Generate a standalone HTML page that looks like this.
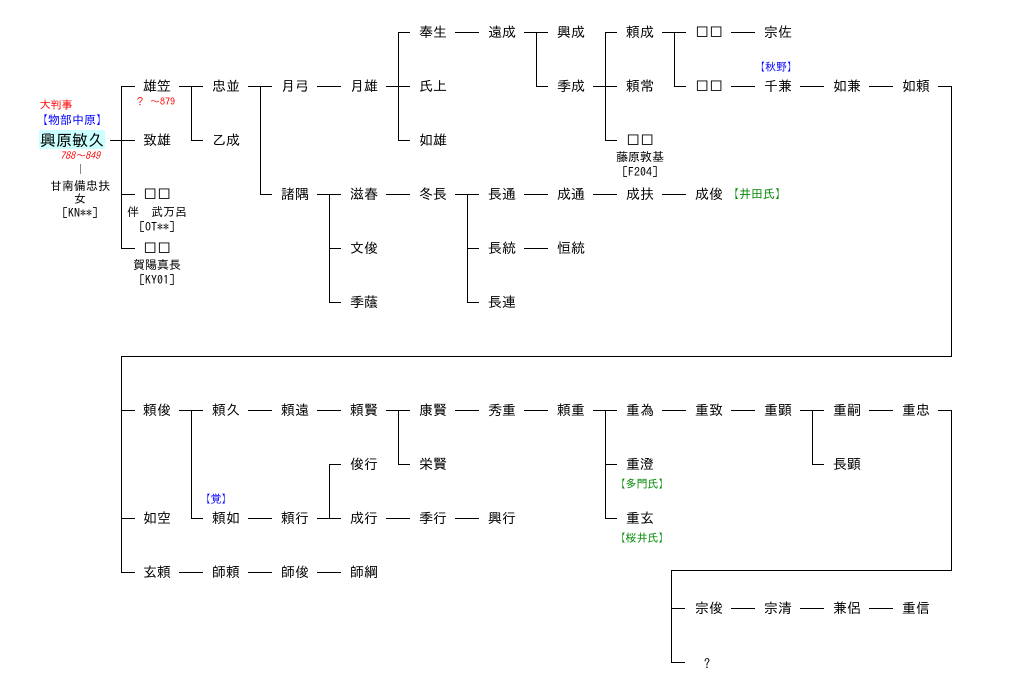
<!DOCTYPE html>
<html><head><meta charset="utf-8">
<style>
html,body{margin:0;padding:0;background:#fff;}
svg{display:block;}
text{font-family:"IPAGothic","Noto Sans CJK JP",sans-serif;font-size:14px;fill:#000;}
.s{font-size:11px;}
.r{fill:#f00;}
.b{fill:#00f;}
.g{fill:#080;}
</style></head><body>
<svg width="1015" height="695" viewBox="0 0 1015 695" xmlns="http://www.w3.org/2000/svg">
<rect x="0" y="0" width="1015" height="695" fill="#fff"/>
<rect x="39" y="130" width="66" height="19" fill="#ccffff"/>
<path fill="none" stroke="#000" stroke-width="1" shape-rendering="crispEdges" d="
M110 140.5H135 M121.5 86V248 M121 86.5H135 M121 194.5H135 M121 248.5H135
M179 86.5H203 M191.5 86V140 M191 140.5H203
M248 86.5H272 M260.5 86V194 M260 194.5H272
M317 86.5H341
M386 86.5H410 M398.5 32V140 M398 32.5H410 M398 140.5H410
M455 32.5H479
M524 32.5H548 M536.5 32V86 M536 86.5H548
M593 86.5H617 M605.5 32V140 M605 32.5H617 M605 140.5H617
M662 32.5H686 M674.5 32V86 M674 86.5H686
M731 32.5H755 M731 86.5H755 M800 86.5H824 M869 86.5H893
M938 86.5H951.5V356.5H121.5V572 M121 410.5H135 M121 518.5H135 M121 572.5H135
M317 194.5H341 M329.5 194V302 M329 248.5H341 M329 302.5H341
M386 194.5H410
M455 194.5H479 M467.5 194V302 M467 248.5H479 M467 302.5H479
M524 194.5H548 M593 194.5H617 M662 194.5H686 M524 248.5H548
M179 410.5H203 M191.5 410V518 M191 518.5H203
M248 410.5H272 M317 410.5H341
M386 410.5H410 M398.5 410V464 M398 464.5H410
M455 410.5H479 M524 410.5H548
M593 410.5H617 M605.5 410V518 M605 464.5H617 M605 518.5H617
M662 410.5H686 M731 410.5H755
M800 410.5H824 M812.5 410V464 M812 464.5H824
M869 410.5H893
M938 410.5H951.5V570.5H671.5V662 M671 608.5H685 M671 662.5H685
M731 608.5H755 M800 608.5H824 M869 608.5H893
M248 518.5H272 M317 518.5H341 M329.5 464V518 M329 464.5H341
M386 518.5H410 M455 518.5H479
M179 572.5H203 M248 572.5H272 M317 572.5H341
"/>
<path stroke="#888" stroke-width="1" d="M80.5 164V174"/>
<g text-anchor="middle" dominant-baseline="central">
<text class="s r" x="56" y="105">大判事</text>
<text class="s b" x="72" y="120" style="font-size:12px">【物部中原】</text>
<text x="72" y="140" style="font-size:16px">興原敏久</text>
<text class="s r" x="80" y="156" font-style="italic" style="font-size:10px">788～849</text>
<text class="s" x="80" y="186" style="font-size:12px">甘南備忠扶</text>
<text class="s" x="80" y="199" style="font-size:12px">女</text>
<text class="s" x="80" y="213" style="font-size:12px">[KN**]</text>

<text x="157" y="86">雄笠</text>
<text class="s r" x="155" y="102" style="font-size:10px">？ ～879</text>
<text x="157" y="140">致雄</text>
<text x="157" y="194">□□</text>
<text class="s" x="157" y="212" style="font-size:12px">伴　武万呂</text>
<text class="s" x="157" y="227" style="font-size:12px">[OT**]</text>
<text x="157" y="248">□□</text>
<text class="s" x="157" y="265" style="font-size:12px">賀陽真長</text>
<text class="s" x="157" y="280" style="font-size:12px">[KY01]</text>

<text x="226" y="86">忠並</text>
<text x="226" y="140">乙成</text>
<text x="295" y="86">月弓</text>
<text x="295" y="194">諸隅</text>
<text x="364" y="86">月雄</text>
<text x="433" y="32">奉生</text>
<text x="433" y="86">氏上</text>
<text x="433" y="140">如雄</text>
<text x="502" y="32">遠成</text>
<text x="571" y="32">興成</text>
<text x="571" y="86">季成</text>
<text x="640" y="32">頼成</text>
<text x="640" y="86">頼常</text>
<text x="640" y="140">□□</text>
<text class="s" x="640" y="157" style="font-size:12px">藤原敦基</text>
<text class="s" x="640" y="172" style="font-size:12px">[F204]</text>
<text x="709" y="32">□□</text>
<text x="709" y="86">□□</text>
<text x="778" y="32">宗佐</text>
<text class="s b" x="776" y="67">【秋野】</text>
<text x="778" y="86">千兼</text>
<text x="847" y="86">如兼</text>
<text x="916" y="86">如頼</text>

<text x="364" y="194">滋春</text>
<text x="364" y="248">文俊</text>
<text x="364" y="302">季蔭</text>
<text x="433" y="194">冬長</text>
<text x="502" y="194">長通</text>
<text x="502" y="248">長統</text>
<text x="502" y="302">長連</text>
<text x="571" y="194">成通</text>
<text x="571" y="248">恒統</text>
<text x="640" y="194">成扶</text>
<text x="709" y="194">成俊</text>
<text class="s g" x="757" y="194" style="font-size:12px">【井田氏】</text>

<text x="157" y="410">頼俊</text>
<text x="157" y="518">如空</text>
<text x="157" y="572">玄頼</text>
<text x="226" y="410">頼久</text>
<text class="s b" x="216" y="499">【覚】</text>
<text x="226" y="518">頼如</text>
<text x="226" y="572">師頼</text>
<text x="295" y="410">頼遠</text>
<text x="295" y="518">頼行</text>
<text x="295" y="572">師俊</text>
<text x="364" y="410">頼賢</text>
<text x="364" y="464">俊行</text>
<text x="364" y="518">成行</text>
<text x="364" y="572">師綱</text>
<text x="433" y="410">康賢</text>
<text x="433" y="464">栄賢</text>
<text x="433" y="518">季行</text>
<text x="502" y="410">秀重</text>
<text x="502" y="518">興行</text>
<text x="571" y="410">頼重</text>
<text x="640" y="410">重為</text>
<text x="640" y="464">重澄</text>
<text class="s g" x="642" y="484">【多門氏】</text>
<text x="640" y="518">重玄</text>
<text class="s g" x="642" y="538">【桜井氏】</text>
<text x="709" y="410">重致</text>
<text x="778" y="410">重顕</text>
<text x="847" y="410">重嗣</text>
<text x="847" y="464">長顕</text>
<text x="916" y="410">重忠</text>
<text x="709" y="608">宗俊</text>
<text x="778" y="608">宗清</text>
<text x="847" y="608">兼侶</text>
<text x="916" y="608">重信</text>
<text class="s" x="707" y="664" style="font-size:12px">?</text>
</g>
</svg>
</body></html>
